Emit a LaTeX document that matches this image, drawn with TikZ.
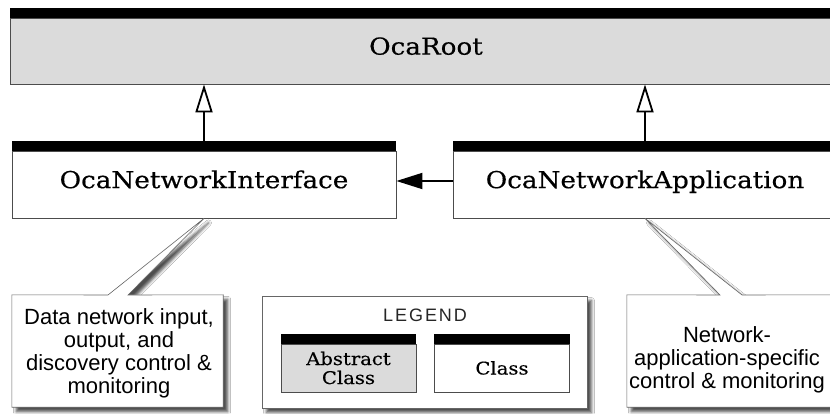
\documentclass[tikz,border=0pt]{standalone}
\usepackage{fontspec}
\setmainfont{Liberation Sans}
\newfontfamily\slabfont[FakeStretch=1.12,FakeBold=0.4]{DejaVu Serif}
\usetikzlibrary{arrows.meta,calc,shadows.blur}

% black header band on top of a class box
\newcommand\clsband[2]{\fill[black] ([yshift=-0.4pt]#1.north west) rectangle ([yshift=#2]#1.north east);}

\begin{document}
\begin{tikzpicture}[x=1pt,y=-1pt,
  classbox/.style={draw=black!70, line width=0.8pt, inner sep=0pt,
    text height=0.73em, text depth=0pt,
    font=\slabfont\fontsize{23.4}{26}\selectfont},
  legendbox/.style={draw=black!70, line width=0.8pt, inner sep=0pt,
    align=center, minimum width=135pt, minimum height=48pt,
    font=\slabfont\fontsize{17.5}{19}\selectfont},
  note/.style={inner sep=0pt, align=center,
    font=\fontsize{22}{23}\selectfont},
  noteshape/.style={draw=black!60, line width=0.6pt, fill=white,
    blur shadow={shadow xshift=4.5pt, shadow yshift=-4.5pt,
      shadow blur radius=3pt, shadow opacity=70}},
  inherit/.style={line width=1.8pt,
    -{Triangle[open, length=28pt, width=17pt, fill=white]}},
  assoc/.style={line width=1.8pt, -{Triangle[length=26pt, width=16pt]}}
]
\useasboundingbox (0,0) rectangle (830,414);
\fill[white] (0,0) rectangle (830,414);

% classes
\node[classbox, fill=black!14, minimum width=832pt, minimum height=66pt]
  (root) at (426,51) {OcaRoot};
\clsband{root}{10pt}
\node[classbox, fill=white, minimum width=384pt, minimum height=67pt]
  (ni) at (204,184.5) {OcaNetworkInterface};
\clsband{ni}{10pt}
\node[classbox, fill=white, minimum width=384pt, minimum height=67pt]
  (na) at (645,184.5) {OcaNetworkApplication};
\clsband{na}{10pt}

% relations
\draw[inherit] ([yshift=10pt]ni.north) -- (ni.north |- root.south);
\draw[inherit] ([yshift=10pt]na.north) -- (na.north |- root.south);
\draw[assoc] ([yshift=3.5pt]na.west) -- ([yshift=3.5pt]ni.east);

% notes
\node[note, minimum width=211pt, minimum height=112pt] (c1) at (117.5,351) {};
\coordinate (c1l) at (108,295);
\coordinate (c1r) at (128,295);
\path[noteshape] (c1.north west) -- (c1l) -- (ni.south) -- (c1r)
  -- (c1.north east) -- (c1.south east) -- (c1.south west) -- cycle;
\node[note] (t1) at (119,353) {Data network input,\\output, and\\discovery control \&\\monitoring};

\node[note, minimum width=208pt, minimum height=112pt] (c2) at (731,351) {};
\coordinate (c2l) at (720,295);
\coordinate (c2r) at (742,295);
\path[noteshape] (c2.north west) -- (c2l) -- (na.south) -- (c2r)
  -- (c2.north east) -- (c2.south east) -- (c2.south west) -- cycle;
\node[note] (t2) at (727,359.5) {Network-\\application-specific\\control \& monitoring};

% legend
\node[noteshape, inner sep=0pt, minimum width=325pt, minimum height=112pt]
  (lg) at (424.5,352) {};
\node[font=\fontsize{18}{20}\selectfont\addfontfeatures{LetterSpace=11},
  text=black!85, inner sep=0pt] (lgt) at (425,315) {LEGEND};
\node[legendbox, fill=black!14] (abs) at (348.5,368) {Abstract\\Class};
\clsband{abs}{10pt}
\node[legendbox, fill=white] (cls) at (502,368) {Class};
\clsband{cls}{10pt}
\end{tikzpicture}
\end{document}
